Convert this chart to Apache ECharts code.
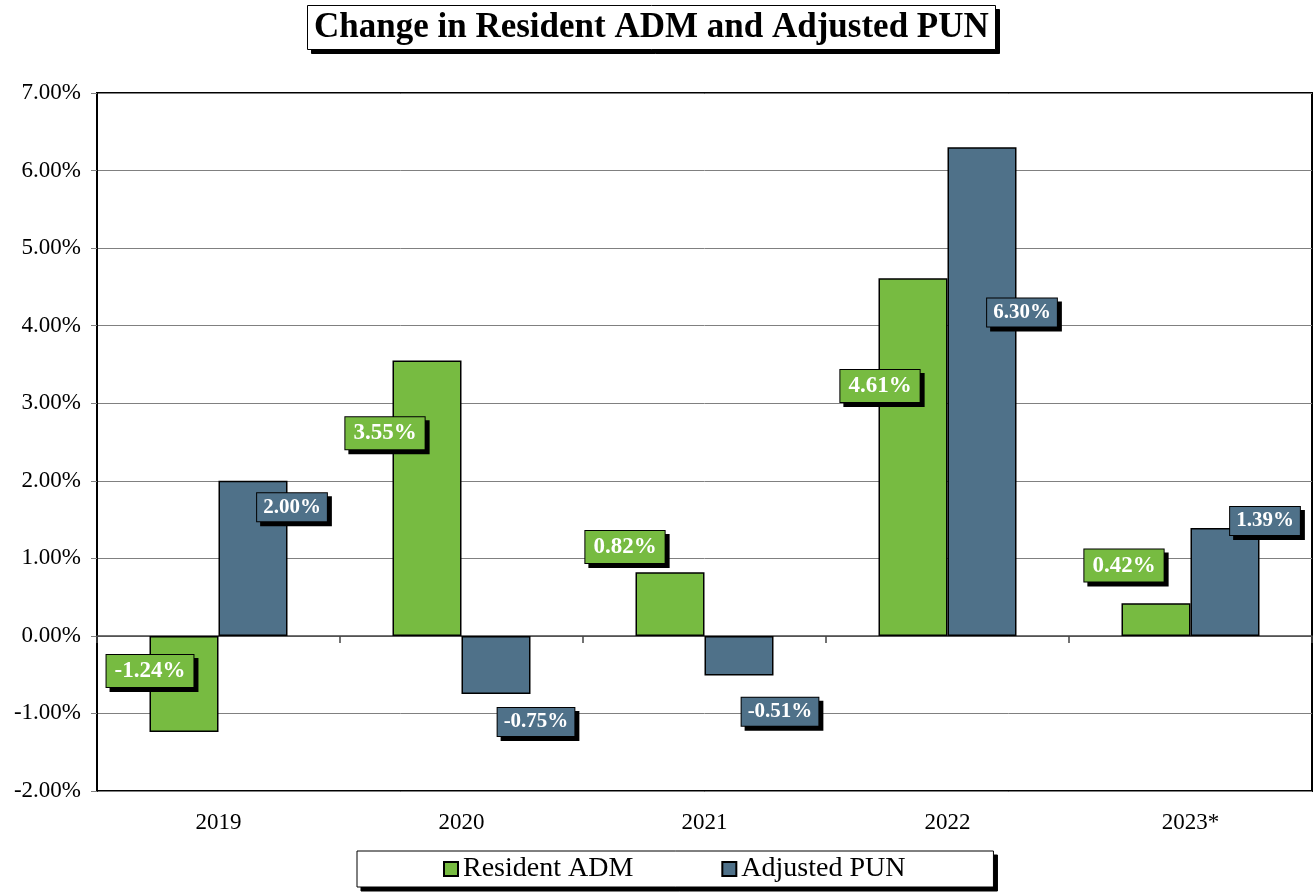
<!DOCTYPE html>
<html>
<head>
<meta charset="utf-8">
<script src="https://cdn.jsdelivr.net/npm/echarts@6/dist/echarts.min.js"></script>
<style>
  html, body { margin: 0; padding: 0; background: #fff; }
  #chart { width: 1314px; height: 893px; }
</style>
</head>
<body>
<div id="chart"></div>
<script>
var years = ['2019', '2020', '2021', '2022', '2023*'];
var residentAdm = [-1.24, 3.55, 0.82, 4.61, 0.42];
var adjustedPun = [2.00, -0.75, -0.51, 6.30, 1.39];

// hand placed label boxes, offset from bar centre (px)
var admLabelShift = [[-34, -13], [-42, -65], [-45, -57], [-33, -71], [-32, -54]];
var punLabelShift = [[39, -51], [40, 57], [41, 56], [40, -79], [40, -61]];

var GREEN = '#77bb41';
var BLUE = '#4f7189';
var SERIF = '"Liberation Serif", "DejaVu Serif", serif';
var SHADOW = 4;
var BAR_W = 69;

function pct(v) {
    return v.toFixed(2) + '%';
}

// canvas shadows also shadow the stroke, so the black drop boxes are
// drawn by their own series on a hidden axis, under the real labels
function labelSeries(values, shifts, fill, textColor, dx, axis, z, size) {
    return {
        type: 'bar',
        xAxisIndex: axis,
        barWidth: BAR_W,
        barGap: '0%',
        silent: true,
        z: z,
        itemStyle: {color: 'rgba(0,0,0,0)'},
        label: {
            show: true,
            position: 'inside',
            formatter: p => pct(p.value),
            color: textColor,
            fontFamily: SERIF,
            fontWeight: 'bold',
            fontSize: size,
            lineHeight: size,
            padding: size > 21 ? [5, 8, 4, 8] : [4, 6, 3, 6],
            backgroundColor: fill,
            borderColor: '#000',
            borderWidth: 1
        },
        data: values.map((v, i) => ({
            value: v,
            label: {offset: [shifts[i][0] + dx, shifts[i][1] + dx]}
        }))
    };
}

function barSeries(name, values, color) {
    return {
        name: name,
        type: 'bar',
        xAxisIndex: 0,
        barWidth: BAR_W,
        barGap: '0%',
        z: 2,
        itemStyle: {color: color, borderColor: '#000', borderWidth: 1.5},
        data: values
    };
}

var boxTitle = {
    text: 'Change in Resident ADM and Adjusted PUN',
    padding: [5, 7, 5, 7],
    borderColor: '#000',
    borderWidth: 1,
    textStyle: {
        fontFamily: SERIF,
        fontWeight: 'bold',
        fontSize: 35,
        color: '#000'
    }
};

var boxLegend = {
    left: 357,
    top: 851,
    padding: [4, 88, 4, 86],
    itemGap: 88,
    itemWidth: 14,
    itemHeight: 14,
    icon: 'rect',
    borderColor: '#000',
    borderWidth: 1,
    data: ['Resident ADM', 'Adjusted PUN'],
    textStyle: {
        fontFamily: SERIF,
        fontSize: 28,
        color: '#000'
    }
};

var hiddenX = {
    type: 'category',
    data: years,
    show: false
};

var chart = echarts.init(document.getElementById('chart'));
chart.setOption({
    animation: false,
    title: [
        Object.assign({}, boxTitle, {
            left: 307 + SHADOW, top: 5 + SHADOW, backgroundColor: '#000',
            textStyle: Object.assign({}, boxTitle.textStyle, {color: 'rgba(0,0,0,0)'})
        }),
        Object.assign({}, boxTitle, {left: 307, top: 5, backgroundColor: '#fff'})
    ],
    legend: [
        Object.assign({}, boxLegend, {
            left: 357 + SHADOW, top: 851 + SHADOW, backgroundColor: '#000',
            selectedMode: false,
            itemStyle: {opacity: 0},
            textStyle: Object.assign({}, boxLegend.textStyle, {color: 'rgba(0,0,0,0)'})
        }),
        Object.assign({}, boxLegend, {backgroundColor: '#fff'})
    ],
    grid: {
        left: 97,
        right: 2,
        top: 93,
        bottom: 102,
        show: true,
        borderColor: '#000',
        borderWidth: 2
    },
    xAxis: [{
        type: 'category',
        data: years,
        position: 'bottom',
        axisLine: {show: false, onZero: false},
        axisTick: {show: false},
        axisLabel: {
            margin: 20,
            fontFamily: SERIF,
            fontSize: 23,
            color: '#000'
        }
    }, {
        type: 'category',
        data: years,
        position: 'bottom',
        axisLine: {show: true, onZero: true, lineStyle: {color: '#444', width: 1.5}},
        axisTick: {show: true, length: 7, lineStyle: {color: '#444', width: 1.5}},
        axisLabel: {show: false}
    }, hiddenX],
    yAxis: {
        type: 'value',
        min: -2,
        max: 7,
        interval: 1,
        axisLine: {show: true, lineStyle: {color: '#000', width: 2}},
        axisTick: {show: true, length: 6, lineStyle: {color: '#808080'}},
        splitLine: {lineStyle: {color: '#808080', width: 1}},
        axisLabel: {
            margin: 16,
            formatter: v => pct(v),
            fontFamily: SERIF,
            fontSize: 23,
            color: '#000'
        }
    },
    series: [
        barSeries('Resident ADM', residentAdm, GREEN),
        barSeries('Adjusted PUN', adjustedPun, BLUE),
        labelSeries(residentAdm, admLabelShift, '#000', 'rgba(0,0,0,0)', SHADOW, 1, 3, 23),
        labelSeries(adjustedPun, punLabelShift, '#000', 'rgba(0,0,0,0)', SHADOW, 1, 3, 21),
        labelSeries(residentAdm, admLabelShift, GREEN, '#fff', 0, 2, 4, 23),
        labelSeries(adjustedPun, punLabelShift, BLUE, '#fff', 0, 2, 4, 21)
    ]
});
</script>
</body>
</html>
